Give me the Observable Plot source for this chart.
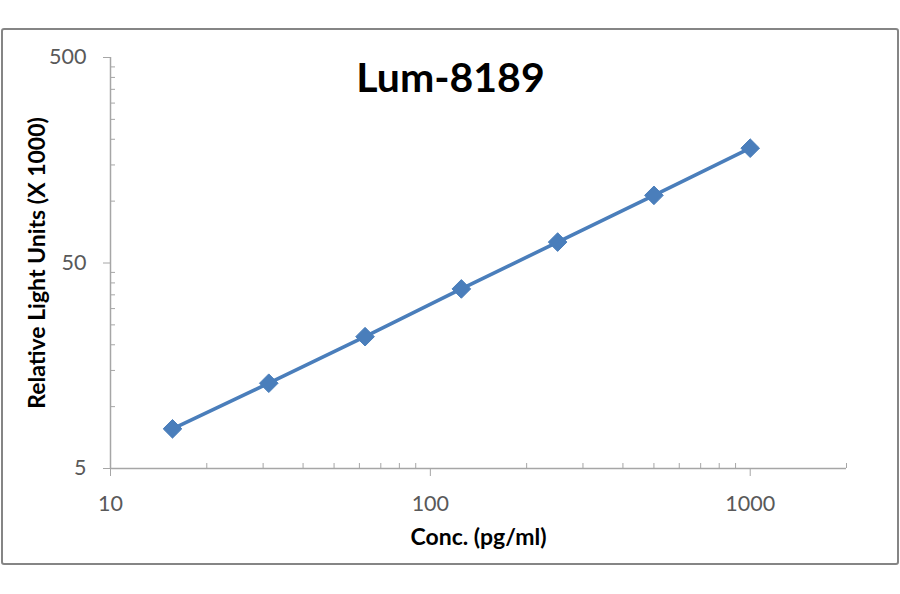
<!DOCTYPE html>
<html><head><meta charset="utf-8">
<script src="https://cdn.jsdelivr.net/npm/d3@7"></script>
<script src="https://cdn.jsdelivr.net/npm/@observablehq/plot@0.6"></script>
<style>body{margin:0;background:#fff;} #chart{width:900px;height:594px;}</style>
</head><body><div id="chart"></div>
<script>
const title = "Lum-8189";
const xLabel = "Conc. (pg/ml)";
const yLabel = "Relative Light Units (X 1000)";
const conc = [15.625, 31.25, 62.5, 125, 250, 500, 1000];
const rlu = [7.8, 13.0, 21.9, 37.4, 63.2, 106.7, 181];
const xMajorTicks = [10, 100, 1000];
const xMinorTicks = [20,30,40,50,60,70,80,90,200,300,400,500,600,700,800,900,2000];
const yMajorTicks = [5, 50, 500];
const yMinorTicks = [10,15,20,25,30,35,40,45,100,150,200,250,300,350,400,450];

const data = conc.map((c, i) => ({conc: c, rlu: rlu[i]}));
const axisColor = "#a6a6a6";
const labelColor = "#595959";
const seriesColor = "#4a7ebb";
const fontFamily = "Lato, 'Open Sans', sans-serif";

const plot = Plot.plot({
  width: 900, height: 594,
  marginLeft: 110, marginRight: 54, marginTop: 57, marginBottom: 126,
  style: {fontFamily, background: "white", overflow: "visible"},
  x: {type: "log", domain: [10, 2000]},
  y: {type: "log", domain: [5, 500]},
  marks: [
    Plot.axisX({ticks: xMinorTicks, tickSize: -5, fill: "none", stroke: axisColor, label: null}),
    Plot.axisY({ticks: yMinorTicks, tickSize: -5, fill: "none", stroke: axisColor, label: null}),
    Plot.axisX({ticks: xMajorTicks, tickSize: 8, tickPadding: 19, tickFormat: d => String(d), fontSize: 21.5, fill: labelColor, stroke: axisColor, label: null}),
    Plot.axisY({ticks: yMajorTicks, tickSize: 7, tickPadding: 17, tickFormat: d => String(d), fontSize: 21.5, fill: labelColor, stroke: axisColor, label: null}),
    Plot.ruleY([5], {stroke: axisColor, strokeWidth: 1.5}),
    Plot.ruleX([10], {stroke: axisColor, strokeWidth: 1.5}),
    Plot.line(data, {x: "conc", y: "rlu", stroke: seriesColor, strokeWidth: 3.6}),
    Plot.dot(data, {x: "conc", y: "rlu", symbol: "diamond2", r: 8.4, fill: seriesColor, stroke: seriesColor, strokeWidth: 1}),
    Plot.text([title], {frameAnchor: "top", dx: -28, dy: 21, text: d => d, fontSize: 41, fontWeight: "bold", fill: "#000", lineAnchor: "middle"}),
    Plot.text([xLabel], {frameAnchor: "bottom", dy: 69, text: d => d, fontSize: 23, fontWeight: "bold", fill: "#000", lineAnchor: "middle", textAnchor: "middle"}),
    Plot.text([yLabel], {frameAnchor: "left", dx: -73, rotate: -90, text: d => d, fontSize: 23, fontWeight: "bold", fill: "#000", lineAnchor: "middle", textAnchor: "middle"})
  ]
});
d3.select(plot).insert("rect", ":first-child")
  .attr("x", 2).attr("y", 29).attr("width", 896).attr("height", 535)
  .attr("rx", 2).attr("fill", "white").attr("stroke", "#858585").attr("stroke-width", 2);
document.getElementById("chart").appendChild(plot);
</script>
</body></html>
